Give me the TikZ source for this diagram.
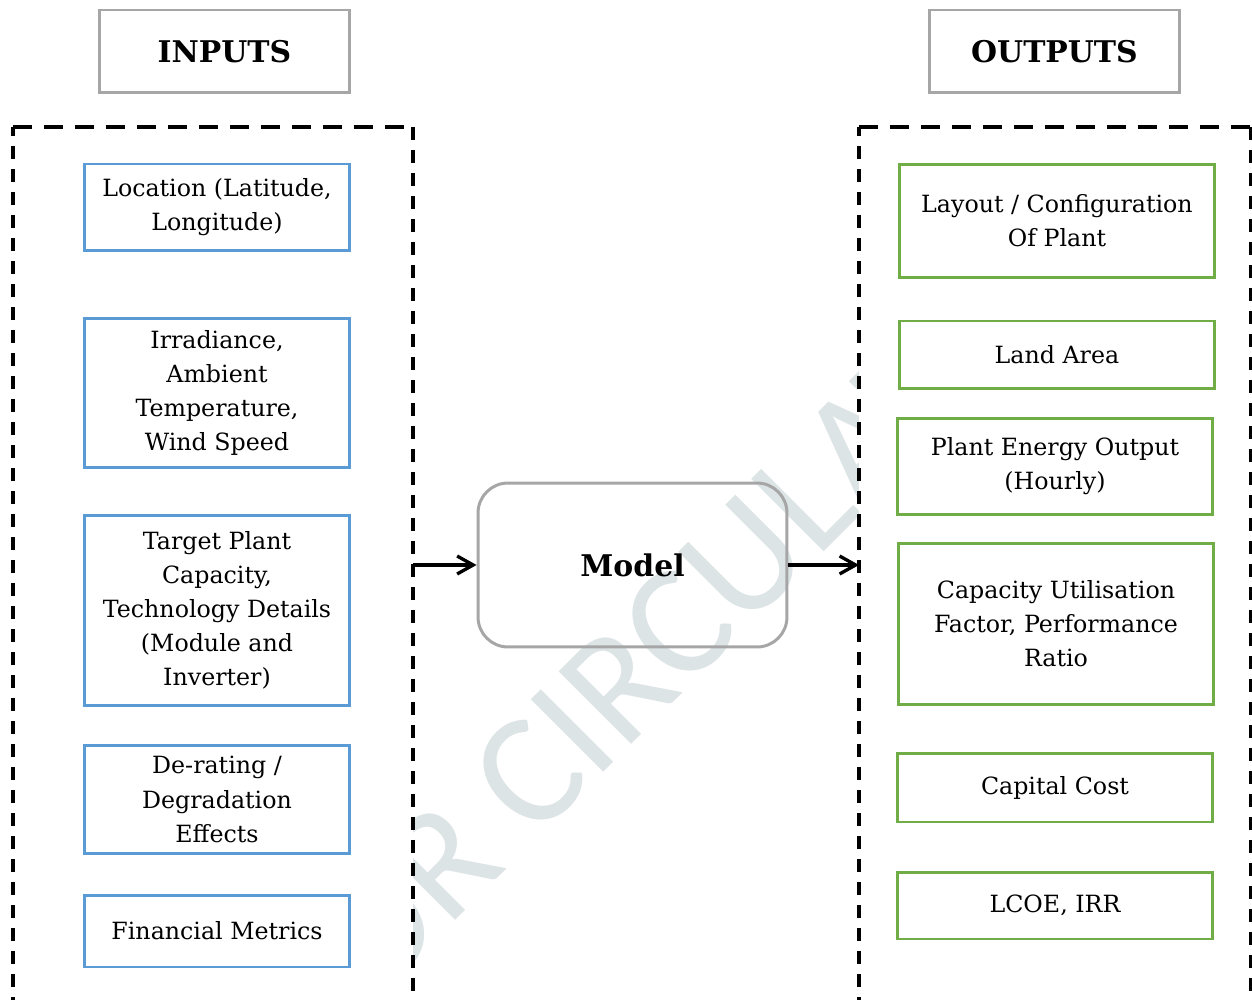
\documentclass[tikz,border=0pt]{standalone}
\usepackage{fontspec}
\setmainfont{DejaVu Serif}
\newfontfamily\stampfont{Carlito}
\usetikzlibrary{arrows.meta}

\definecolor{inblue}{HTML}{5B9BD5}
\definecolor{outgreen}{HTML}{70AD47}
\definecolor{headgray}{HTML}{A6A6A6}
\definecolor{stampgray}{HTML}{DDE4E6}

\newcommand{\boxfont}{\fontsize{13.5}{19.4}\selectfont}
\newcommand{\headfont}{\fontsize{17}{20}\selectfont\bfseries}

\tikzset{
  inbox/.style={draw=inblue, line width=1.7pt, minimum width=5.32cm, inner sep=0pt, align=center, font=\boxfont},
  outbox/.style={draw=outgreen, line width=1.7pt, minimum width=6.32cm, inner sep=0pt, align=center, font=\boxfont},
  headbox/.style={draw=headgray, line width=1.7pt, minimum width=5.02cm, minimum height=1.66cm, font=\headfont},
  modelbox/.style={draw=headgray, line width=1.7pt, rounded corners=0.6cm, minimum width=6.18cm, minimum height=3.28cm, font=\headfont},
  grpline/.style={line width=2.1pt, dash pattern=on 0.27cm off 0.19cm},
  grptop/.style={line width=2.1pt, dash pattern=on 0.38cm off 0.24cm},
  flow/.style={line width=1.9pt, -{Straight Barb[length=0.32cm,width=0.36cm]}}
}

\begin{document}
\begin{tikzpicture}[x=0.02cm,y=-0.02cm]
        \clip (0,0) rectangle (1252,1000);

        % stamp behind everything
        \node[anchor=base west, rotate=45, text=stampgray, inner sep=0pt,
              font=\stampfont\fontsize{91}{91}\selectfont] (stamp) at (96,1280)
              {NOT FOR CIRCULATION};

        % the two dashed groups
        \fill[white] (13,127) rectangle (413,1010);
        \draw[grpline] (13,1010) -- (13,127);
        \draw[grptop] (13,127) -- (413,127);
        \draw[grpline] (413,127) -- (413,1010);

        \fill[white] (859,127) rectangle (1251,1010);
        \draw[grpline] (859,1010) -- (859,127);
        \draw[grptop] (859,127) -- (1251,127);
        \draw[grpline] (1251,127) -- (1251,1010);

        \node[headbox] (inhead) at (224.5,51.5) {INPUTS};
        \node[headbox] (outhead) at (1054.5,51.5) {OUTPUTS};

        \node[inbox, minimum height=1.74cm] (loc) at (217,207.5) {Location (Latitude,\\Longitude)};
        \node[inbox, minimum height=3.0cm] (irr) at (217,393) {Irradiance,\\Ambient\\Temperature,\\Wind Speed};
        \node[inbox, minimum height=3.82cm] (tech) at (217,610.5) {Target Plant\\Capacity,\\Technology Details\\(Module and\\Inverter)};
        \node[inbox, minimum height=2.18cm] (derate) at (217,799.5) {De-rating /\\Degradation\\Effects};
        \node[inbox, minimum height=1.44cm] (fin) at (217,931) {Financial Metrics};

        \node[outbox, minimum height=2.28cm] (layout) at (1057,221) {Layout / Configuration\\Of Plant};
        \node[outbox, minimum height=1.36cm] (land) at (1057,355) {Land Area};
        \node[outbox, minimum height=1.94cm] (energy) at (1055,466.5) {Plant Energy Output\\(Hourly)};
        \node[outbox, minimum height=3.24cm] (cuf) at (1056,624) {Capacity Utilisation\\Factor, Performance\\Ratio};
        \node[outbox, minimum height=1.38cm] (capex) at (1055,787.5) {Capital Cost};
        \node[outbox, minimum height=1.34cm] (lcoe) at (1055,905.5) {LCOE, IRR};

        \node[modelbox] (model) at (632.5,565) {Model};

        \coordinate (inedge) at (413,565);
        \coordinate (outedge) at (859,565);

        \draw[flow] (inedge) -- (model);
        \draw[flow] (model) -- (outedge);

\end{tikzpicture}
\end{document}
